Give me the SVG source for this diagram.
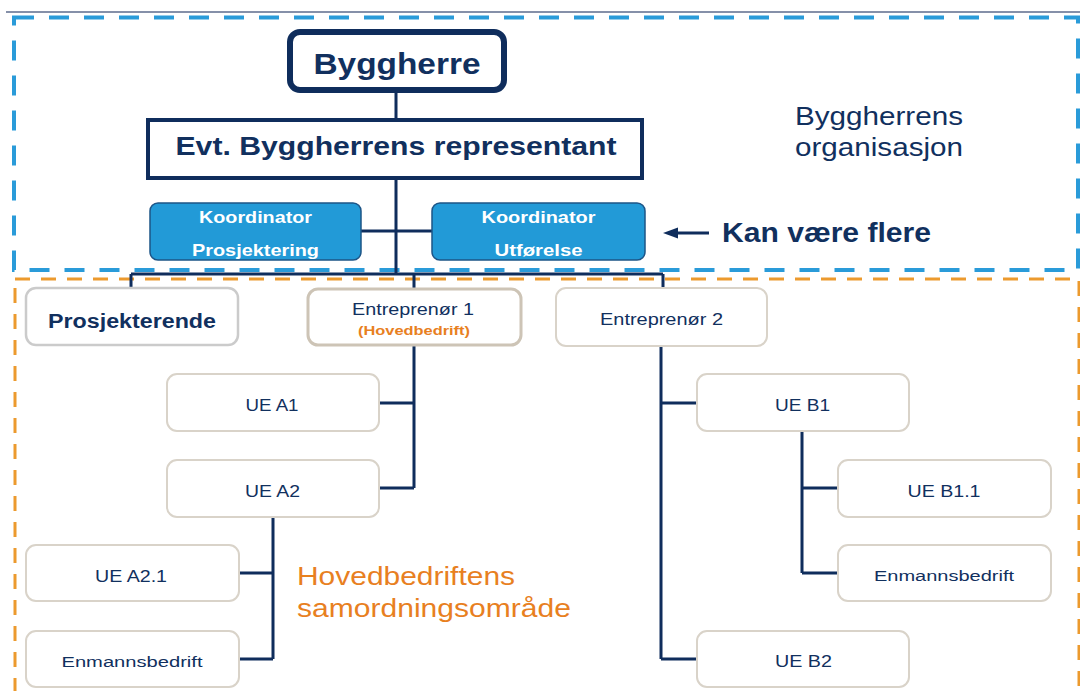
<svg xmlns="http://www.w3.org/2000/svg" width="1080" height="691" viewBox="0 0 1080 691">
<defs>
<style>
text{font-family:"Liberation Sans",Arial,Helvetica,sans-serif;fill:#11305e}
.c{text-anchor:middle}
.b{font-weight:bold}
.box{fill:#fff;stroke:#d9d3c9;stroke-width:2}
.kbox{fill:#229ad7;stroke:#1d5587;stroke-width:1.5}
.wt{fill:#fff;font-weight:bold;font-size:16.5px}
.ln{fill:none;stroke:#0f2d5c;stroke-width:3}
.or{fill:#e8801f}
.t16{font-size:17px}
</style>
</defs>
<rect width="1080" height="691" fill="#fff"/>
<line x1="6" y1="12" x2="1080" y2="12" stroke="#5c6b8c" stroke-width="1.5"/>
<g id="zone-byggherre">
<rect x="14" y="17.5" width="1064" height="252.5" fill="none" stroke="#2a9bd9" stroke-width="4" stroke-dasharray="20 15"/>
<text x="795" y="125" font-size="25" textLength="168" lengthAdjust="spacingAndGlyphs">Byggherrens</text>
<text x="795" y="156" font-size="25" textLength="168" lengthAdjust="spacingAndGlyphs">organisasjon</text>
</g>
<g id="zone-hovedbedrift">
<rect x="15" y="279" width="1064" height="430" fill="none" stroke="#ec9a2e" stroke-width="3" stroke-dasharray="15 11"/>
<text class="or" x="297" y="585" font-size="25" textLength="218" lengthAdjust="spacingAndGlyphs">Hovedbedriftens</text>
<text class="or" x="297" y="617" font-size="25" textLength="274" lengthAdjust="spacingAndGlyphs">samordningsområde</text>
</g>
<g id="connectors">
<path class="ln" d="M396,93 V120 M396,178 V274 M361,231 H432 M131,274 H663 M131,274 V288 M414,274 V288 M663,274 V288"/>
<path class="ln" d="M414,346 V488 M379,403 H414 M379,488 H414"/>
<path class="ln" d="M273,517 V659 M239,573 H273 M239,659 H273"/>
<path class="ln" d="M661,346 V659 M661,403 H697 M661,659 H697"/>
<path class="ln" d="M802,431 V573 M802,488 H838 M802,573 H838"/>
<line x1="709" y1="233" x2="676" y2="233" stroke="#0f2d5c" stroke-width="3"/>
<path d="M663,233 L678,227.5 L678,238.5 Z" fill="#0f2d5c"/>
</g>
<g id="byggherre">
<rect x="290" y="32" width="214" height="58" rx="10" fill="#fff" stroke="#0f2d5c" stroke-width="6"/>
<text class="c b" x="397" y="74" font-size="29" textLength="167" lengthAdjust="spacingAndGlyphs">Byggherre</text>
</g>
<g id="representant">
<rect x="148" y="120" width="494" height="58" fill="#fff" stroke="#0f2d5c" stroke-width="4"/>
<text class="c b" x="396" y="155" font-size="25" textLength="441" lengthAdjust="spacingAndGlyphs">Evt. Byggherrens representant</text>
</g>
<g id="koord-prosjektering">
<rect class="kbox" x="150" y="203" width="211" height="57" rx="8"/>
<text class="c wt" x="255.5" y="223" textLength="113" lengthAdjust="spacingAndGlyphs">Koordinator</text>
<text class="c wt" x="255.5" y="256" textLength="127" lengthAdjust="spacingAndGlyphs">Prosjektering</text>
</g>
<g id="koord-utforelse">
<rect class="kbox" x="432" y="203" width="213" height="57" rx="8"/>
<text class="c wt" x="538.5" y="223" textLength="114" lengthAdjust="spacingAndGlyphs">Koordinator</text>
<text class="c wt" x="538.5" y="256" textLength="88" lengthAdjust="spacingAndGlyphs">Utførelse</text>
</g>
<g id="kan-vaere-flere">
<text class="b" x="722" y="242" font-size="27" textLength="209" lengthAdjust="spacingAndGlyphs">Kan være flere</text>
</g>
<g id="prosjekterende">
<rect x="26" y="288" width="212" height="57" rx="10" fill="#fff" stroke="#cbcbcb" stroke-width="2.5"/>
<text class="c b" x="132" y="328" font-size="20" textLength="168" lengthAdjust="spacingAndGlyphs">Prosjekterende</text>
</g>
<g id="entreprenor1">
<rect x="308" y="289" width="213" height="56" rx="10" fill="#fff" stroke="#cdc4b6" stroke-width="3"/>
<text class="c t16" x="413" y="315" textLength="122" lengthAdjust="spacingAndGlyphs">Entreprenør 1</text>
<text class="c b or" x="414" y="335" font-size="13.5" textLength="112" lengthAdjust="spacingAndGlyphs">(Hovedbedrift)</text>
</g>
<g id="entreprenor2">
<rect class="box" x="556" y="288" width="211" height="58" rx="10"/>
<text class="c t16" x="661.5" y="325" textLength="123" lengthAdjust="spacingAndGlyphs">Entreprenør 2</text>
</g>
<g id="ue-a1">
<rect class="box" x="167" y="374" width="212" height="57" rx="10"/>
<text class="c t16" x="272" y="411" textLength="53" lengthAdjust="spacingAndGlyphs">UE A1</text>
</g>
<g id="ue-a2">
<rect class="box" x="167" y="460" width="212" height="57" rx="10"/>
<text class="c t16" x="272.5" y="497" textLength="55" lengthAdjust="spacingAndGlyphs">UE A2</text>
</g>
<g id="ue-a2-1">
<rect class="box" x="26" y="545" width="213" height="56" rx="10"/>
<text class="c t16" x="131" y="582" textLength="72" lengthAdjust="spacingAndGlyphs">UE A2.1</text>
</g>
<g id="enmann-a">
<rect class="box" x="26" y="631" width="213" height="56" rx="10"/>
<text class="c" x="132" y="667" font-size="15.5" textLength="141" lengthAdjust="spacingAndGlyphs">Enmannsbedrift</text>
</g>
<g id="ue-b1">
<rect class="box" x="697" y="374" width="212" height="57" rx="10"/>
<text class="c t16" x="802.5" y="411" textLength="55" lengthAdjust="spacingAndGlyphs">UE B1</text>
</g>
<g id="ue-b1-1">
<rect class="box" x="838" y="460" width="213" height="57" rx="10"/>
<text class="c t16" x="944" y="497" textLength="73" lengthAdjust="spacingAndGlyphs">UE B1.1</text>
</g>
<g id="enmann-b">
<rect class="box" x="838" y="545" width="213" height="56" rx="10"/>
<text class="c" x="944" y="581" font-size="15.5" textLength="140" lengthAdjust="spacingAndGlyphs">Enmannsbedrift</text>
</g>
<g id="ue-b2">
<rect class="box" x="697" y="631" width="212" height="56" rx="10"/>
<text class="c t16" x="803.5" y="667" textLength="57" lengthAdjust="spacingAndGlyphs">UE B2</text>
</g>
</svg>
